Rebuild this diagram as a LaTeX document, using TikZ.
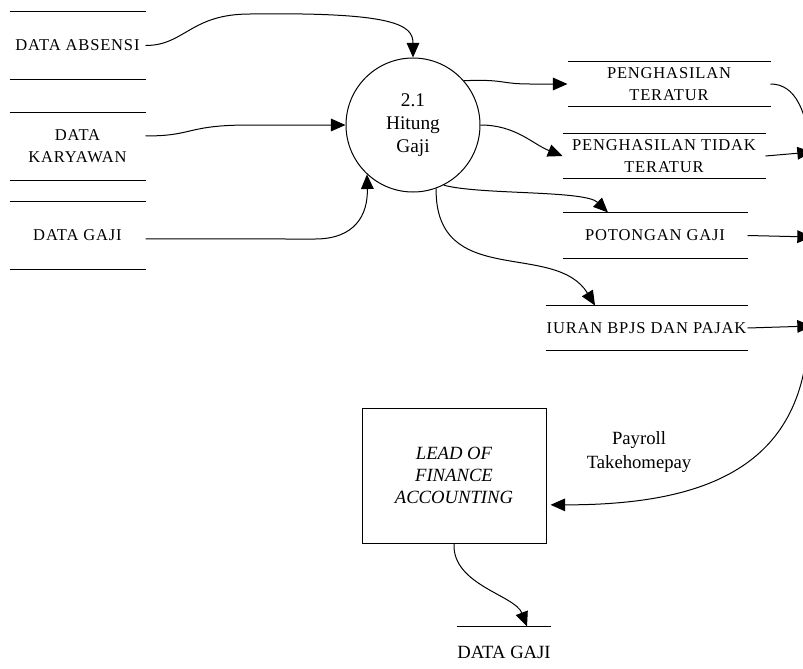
\documentclass[tikz,border=0pt]{standalone}
\usepackage{fontspec}
\setmainfont{Liberation Serif}
\newfontfamily\storefont[LetterSpace=5]{Liberation Serif}
\usetikzlibrary{arrows.meta}

\begin{document}
\begin{tikzpicture}[x=0.75pt, y=-0.75pt, line width=0.75pt,
  flow/.style={-{Triangle[length=11pt,width=9.5pt]}},
  store/.style={inner sep=0pt, align=center,
    font=\storefont\fontsize{12.4}{16.5}\selectfont},
  process/.style={circle, draw, minimum size=100.5pt, inner sep=0pt, align=center,
    font=\fontsize{14.5}{17.5}\selectfont},
  entity/.style={draw, minimum width=138pt, minimum height=101.25pt, align=center,
    font=\itshape\fontsize{14}{16.2}\selectfont},
  plain/.style={align=center, font=\fontsize{14}{18.5}\selectfont}]

\useasboundingbox (0,0) rectangle (803,668);
\clip (0,0) rectangle (803,668);

% data stores feeding the process
\node[store, minimum width=101.25pt, minimum height=50.25pt] (abs) at (77.5,45.5) {DATA ABSENSI};
\node[store, minimum width=101.25pt, minimum height=50.25pt] (kar) at (77.5,146.5) {DATA\\KARYAWAN};
\node[store, minimum width=101.25pt, minimum height=50.25pt] (gaji) at (77.5,235.5) {DATA GAJI};

% the process
\node[process] (proc) at (413,125) {2.1\\Hitung\\Gaji};

% result stores
\node[store, minimum width=151.5pt, minimum height=33pt] (pt) at (669,84) {PENGHASILAN\\TERATUR};
\node[store, minimum width=151.5pt, minimum height=33pt] (ptt) at (664,156) {PENGHASILAN TIDAK\\TERATUR};
\node[store, minimum width=138pt, minimum height=33.75pt] (pot) at (655,235.5) {POTONGAN GAJI};
\node[store, minimum width=150.75pt, minimum height=33pt] (iur) at (646.5,328) {IURAN BPJS DAN PAJAK};

% external entity and output store
\node[entity] (lead) at (454,475.5) {LEAD OF\\FINANCE\\ACCOUNTING};
\node[plain, minimum width=67.5pt, minimum height=37.5pt, inner sep=0pt] (dg) at (504,652) {DATA GAJI};

\node[plain] (lbl) at (639,452) {Payroll\\Takehomepay};

% store borders: top and bottom lines only
\foreach \n in {abs,kar,gaji,pt,ptt,pot,iur,dg}
  \draw (\n.north west) -- (\n.north east) (\n.south west) -- (\n.south east);

% next process, lying to the right
\coordinate (nx1) at (812,175);
\coordinate (nx2) at (812,152);
\coordinate (nx3) at (812,237);
\coordinate (nx4) at (812,326);
\coordinate (nx5) at (808,340);

% inputs
\draw[flow] (abs.east) .. controls (185,45.5) and (190,14) .. (250,14)
  .. controls (395,12) and (413,25) .. (proc.north);
\draw[flow] ([yshift=7.9pt]kar.east) .. controls (195,136) and (185,125) .. (250,125) -- (proc.west);
\draw[flow] ([yshift=-2.6pt]gaji.east) -- (315,239) .. controls (355,239) and (368,215) .. (proc.227);

% outputs
\draw[flow] (proc.41) .. controls (505,79) and (500,84) .. (530,84) -- (pt.west);
\draw[flow] (proc.east) .. controls +(35,0) and +(-30,-12) .. (ptt.west);
\draw[flow] (proc.-63) .. controls (480,195) and (585,190) .. ([xshift=-35.25pt]pot.north);
\draw[flow] (proc.-70) .. controls (435,290) and (555,240) .. ([xshift=-38.6pt]iur.north);

% to the next process
\draw[flow] (pt.east) .. controls (795,84) and (808,110) .. (nx1);
\draw[flow] (ptt.east) -- (nx2);
\draw[flow] (pot.east) -- (nx3);
\draw[flow] (iur.east) -- (nx4);

% take-home pay back to the entity
\draw[flow, shorten >=3pt] (nx5) .. controls (800,470) and (700,505) .. ([yshift=-22pt]lead.east);

% entity writes the salary data
\draw[flow] (lead.south) .. controls (452,585) and (515,595) .. ([xshift=17.25pt]dg.north);

\end{tikzpicture}
\end{document}
